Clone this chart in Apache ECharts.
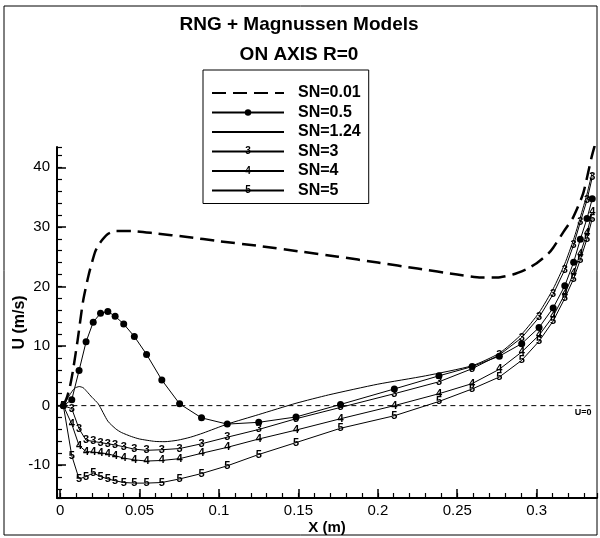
<!DOCTYPE html>
<html><head><meta charset="utf-8">
<script src="https://cdn.jsdelivr.net/npm/echarts@6/dist/echarts.min.js"></script>
<style>html,body{margin:0;padding:0;background:#fff}#c{width:600px;height:538px}</style>
</head><body><div id="c"></div>
<script>
// shared x-grid (m) for marker series
const xGrid = [0.002,0.0073,0.0119,0.0163,0.0208,0.0254,0.030,0.0346,0.040,0.0467,0.0544,0.064,0.0752,0.089,0.1052,0.125,0.1485,0.1765,0.2104,0.2385,0.2594,0.2765,0.2906,0.3015,0.3104,0.3177,0.3233,0.3275,0.3317,0.335];
const uSN05 = [0,1.0,5.9,10.7,14.0,15.5,15.8,15.0,13.7,11.6,8.6,4.3,0.3,-2.05,-3.1,-2.8,-1.9,0.2,2.8,5.0,6.55,8.3,10.4,13.1,16.4,20.1,24.05,27.9,31.4,34.7];
const uSN3 = [0,-0.5,-3.9,-5.8,-6.0,-6.2,-6.4,-6.6,-6.9,-7.3,-7.5,-7.4,-7.2,-6.4,-5.3,-4.0,-2.2,-0.3,2.0,4.0,6.2,8.5,11.4,14.8,18.7,22.8,27.0,30.8,34.5,38.3];
const uSN4 = [0,-3.1,-6.7,-7.7,-7.8,-7.9,-8.1,-8.4,-8.8,-9.1,-9.3,-9.2,-8.9,-8.0,-7.0,-5.6,-4.1,-2.2,0.0,2.0,3.7,6.1,9.0,11.8,15.0,18.7,22.3,25.5,29.0,32.5];
const uSN5 = [0,-8.4,-12.3,-11.9,-11.3,-11.9,-12.3,-12.6,-12.9,-13.0,-13.0,-12.9,-12.3,-11.4,-10.1,-8.2,-6.2,-3.8,-1.7,0.7,2.8,4.8,7.6,10.8,14.2,18.0,21.3,24.5,28.0,31.4];
// SN=1.24 (plain line)
const x124 = [0.002,0.006,0.009,0.012,0.0145,0.0167,0.020,0.024,0.030,0.035,0.0385,0.045,0.050,0.0595,0.066,0.074,0.082,0.090,0.1052,0.125,0.1485,0.169,0.200,0.230,0.2594,0.2765,0.2906,0.3015,0.3104,0.3177,0.3233,0.3275,0.3317,0.335];
const u124 = [0,1.8,2.9,3.2,3.0,2.4,1.4,0.3,-2.6,-3.9,-4.5,-5.2,-5.6,-6.0,-6.05,-5.8,-5.3,-4.6,-3.1,-1.5,0.4,1.8,3.6,5.0,6.7,8.8,12.0,15.6,19.6,23.8,27.9,31.6,35.5,39.2];
// SN=0.01 (dashed)
const x001 = [0.002,0.004,0.006,0.008,0.011,0.0144,0.018,0.022,0.025,0.030,0.035,0.045,0.060,0.080,0.100,0.125,0.150,0.175,0.200,0.225,0.250,0.265,0.275,0.285,0.2937,0.300,0.3073,0.3104,0.317,0.323,0.3293,0.3346,0.338];
const u001 = [0,1.2,3,5.8,11,17.5,22,25.8,27.3,28.8,29.3,29.3,28.9,28.3,27.6,26.8,25.9,25.0,24.0,23.0,22.0,21.5,21.5,22.0,22.9,23.9,25.5,26.5,29.2,31.6,35.6,41.7,45];
// reference line U=0
const xRef = [0.002,0.3355];
const uRef = [0,0];
const seriesNames = ['SN=0.01','SN=0.5','SN=1.24','SN=3','SN=4','SN=5'];
const titleLines = ['RNG + Magnussen Models','ON AXIS R=0'];
const xName = 'X (m)', yName = 'U (m/s)';

const FONT = '"Liberation Sans", Arial, sans-serif';
const pair = (xs, ys) => xs.map((x, i) => [x, ys[i]]);
const digitSeries = (name, ys, d) => ({
  name, type:'line', data: pair(xGrid, ys), symbol:'circle', symbolSize:1,
  itemStyle:{color:'rgba(0,0,0,0)'}, lineStyle:{color:'#000', width:1},
  label:{show:true, position:'inside', formatter:d, color:'#000', fontSize:11, fontWeight:'bold', fontFamily:FONT, textBorderWidth:0},
  z:3
});
const txt = (x, y, text, size, extra) => Object.assign({type:'text', x, y, silent:true,
  style:{text, fill:'#000', fontSize:size, fontWeight:'bold', fontFamily:FONT, align:'center', verticalAlign:'middle'}}, extra||{});

const chart = echarts.init(document.getElementById('c'), null, {renderer:'canvas'});
const axX = {type:'value', min:-0.002, max:0.338, gridIndex:0, position:'bottom'};
const axY = {type:'value', min:-15.5, max:43.4, gridIndex:0, position:'left'};
chart.setOption({
  animation:false,
  backgroundColor:'#fff',
  grid:{left:57, right:3, top:147, bottom:40, containLabel:false, outerBoundsMode:'none'},
  xAxis:[
    Object.assign({}, axX, {splitNumber:7,
      axisLine:{onZero:false, lineStyle:{color:'#000', width:2}},
      axisTick:{inside:true, length:9, lineStyle:{color:'#000', width:1.5}},
      axisLabel:{color:'#000', fontSize:15, fontFamily:FONT, margin:5, showMinLabel:false, showMaxLabel:false},
      splitLine:{show:false},
      name:xName, nameLocation:'middle', nameGap:22, nameMoveOverlap:false,
      nameTextStyle:{color:'#000', fontSize:15, fontWeight:'bold', fontFamily:FONT, verticalAlign:'top'}}),
    Object.assign({}, axX, {splitNumber:35,
      axisLine:{show:false, onZero:false},
      axisTick:{inside:true, length:5, lineStyle:{color:'#000', width:1.2}},
      axisLabel:{show:false}, splitLine:{show:false}})
  ],
  yAxis:[
    Object.assign({}, axY, {splitNumber:6,
      axisLine:{onZero:false, lineStyle:{color:'#000', width:2}},
      axisTick:{inside:true, length:9, lineStyle:{color:'#000', width:1.5}},
      axisLabel:{color:'#000', fontSize:15, fontFamily:FONT, margin:7, showMinLabel:false, showMaxLabel:false},
      splitLine:{show:false},
      name:yName, nameLocation:'middle', nameGap:29, nameRotate:90, nameMoveOverlap:false,
      nameTextStyle:{color:'#000', fontSize:16, fontWeight:'bold', fontFamily:FONT}}),
    Object.assign({}, axY, {splitNumber:30,
      axisLine:{show:false, onZero:false},
      axisTick:{inside:true, length:5, lineStyle:{color:'#000', width:1.2}},
      axisLabel:{show:false}, splitLine:{show:false}})
  ],
  legend:{
    data: seriesNames, orient:'vertical', left:203, top:70,
    padding:[15,8,5,8], itemGap:3.5, itemWidth:72, itemHeight:8,
    borderColor:'#000', borderWidth:1, backgroundColor:'#fff',
    textStyle:{color:'#000', fontSize:16, fontWeight:'bold', fontFamily:FONT, lineHeight:16, padding:[0,0,0,9]},
    selectedMode:false
  },
  series:[
    {name:'U0', type:'line', data: pair(xRef, uRef).map((p,i)=> i===1 ? {value:p, label:{show:true, formatter:'U=0', position:'bottom', distance:2, offset:[-10,0], color:'#000', fontSize:9, fontWeight:'bold', fontFamily:FONT}} : p),
      symbol:'circle', symbolSize:0.1, itemStyle:{color:'rgba(0,0,0,0)'}, lineStyle:{color:'#000', width:1, type:[5,4]}, z:1},
    {name:seriesNames[0], type:'line', data: pair(x001, u001), symbol:'none', smooth:0.2,
      itemStyle:{color:'rgba(0,0,0,0)'}, lineStyle:{color:'#000', width:2.5, type:[14,7]}, z:2},
    {name:seriesNames[1], type:'line', data: pair(xGrid, uSN05), symbol:'circle', symbolSize:7,
      itemStyle:{color:'#000'}, lineStyle:{color:'#000', width:1}, z:4},
    {name:seriesNames[2], type:'line', data: pair(x124, u124), symbol:'none', smooth:0.2,
      itemStyle:{color:'rgba(0,0,0,0)'}, lineStyle:{color:'#000', width:1}, z:2},
    digitSeries(seriesNames[3], uSN3, '3'),
    digitSeries(seriesNames[4], uSN4, '4'),
    digitSeries(seriesNames[5], uSN5, '5')
  ],
  graphic:[
    {type:'rect', shape:{x:4, y:6, width:593, height:529}, style:{fill:'none', stroke:'#000', lineWidth:1}, silent:true, z:-1},
    txt(299, 25, titleLines[0], 19),
    txt(299, 55, titleLines[1], 19)
  ]
});
// digit glyphs on legend samples
const lg = chart.getModel().getComponent('legend');
const view = chart.getViewOfComponentModel ? chart.getViewOfComponentModel(lg) : null;
const extra = [];
if (view && view._contentGroup) {
  const children = view._contentGroup.children();
  const digits = {'SN=3':'3','SN=4':'4','SN=5':'5'};
  children.forEach((g, i) => {
    const name = seriesNames[i];
    if (digits[name]) {
      const r = g.getBoundingRect();
      const gx = view.group.x + view._contentGroup.x + g.x + 72/2;
      const gy = view.group.y + view._contentGroup.y + g.y + r.y + r.height/2;
      extra.push(txt(gx, gy, digits[name], 10, {z:100}));
    }
  });
}
if (extra.length) {
  chart.setOption({graphic: [{}, {}, {}].concat(extra)});
}
</script></body></html>
